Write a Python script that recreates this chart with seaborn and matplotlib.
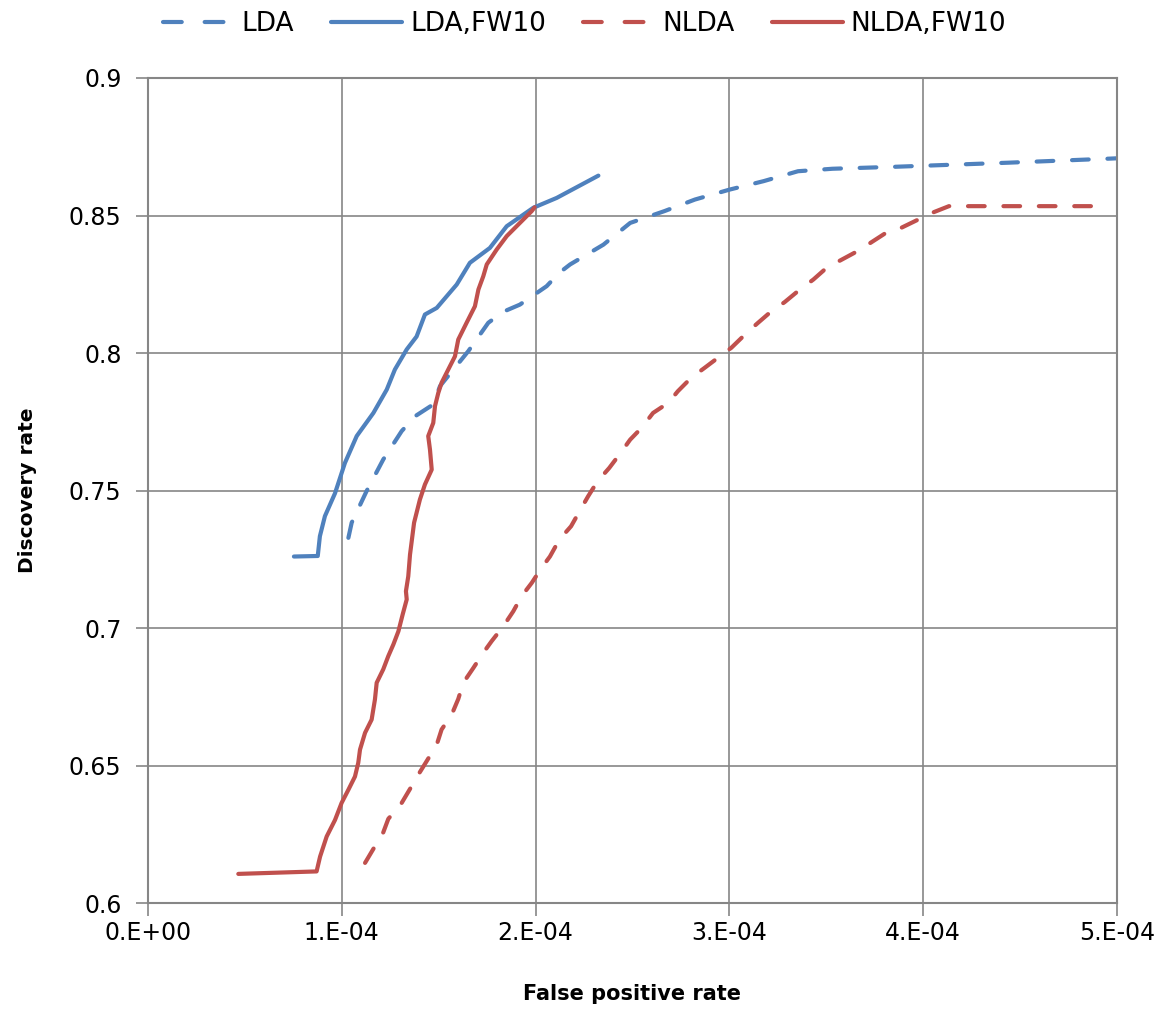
import pandas as pd
import matplotlib
matplotlib.use("Agg")
import matplotlib.pyplot as plt
import seaborn as sns

# false positive rate in units of 1e-4, discovery rate
lda_x = [1.034, 1.051, 1.128, 1.214, 1.309, 1.378, 1.472, 1.507, 1.653, 1.756, 1.833, 1.919,
         2.057, 2.123, 2.178, 2.350, 2.488, 2.665, 2.822, 3.000, 3.177, 3.354, 3.532, 3.847,
         4.044, 4.438, 4.969, 5.0]
lda_y = [0.7328, 0.7383, 0.7498, 0.7613, 0.7716, 0.7770, 0.7813, 0.7880, 0.8007, 0.8110, 0.8150, 0.8176,
         0.8243, 0.8292, 0.8322, 0.8394, 0.8473, 0.8516, 0.8558, 0.8594, 0.8625, 0.8661, 0.8670, 0.8677,
         0.8682, 0.8692, 0.8707, 0.8708]

lda_fw_x = [0.753, 0.876, 0.887, 0.913, 0.965, 1.016, 1.077, 1.163, 1.232, 1.274, 1.335, 1.386,
            1.429, 1.490, 1.593, 1.661, 1.764, 1.851, 1.988, 2.109, 2.324]
lda_fw_y = [0.7260, 0.7262, 0.7334, 0.7407, 0.7490, 0.7600, 0.7698, 0.7782, 0.7867, 0.7940, 0.8013, 0.8060,
            0.8140, 0.8164, 0.8249, 0.8328, 0.8382, 0.8461, 0.8528, 0.8564, 0.8645]

nlda_x = [1.120, 1.163, 1.214, 1.240, 1.309, 1.352, 1.395, 1.438, 1.490, 1.515, 1.567, 1.601,
          1.627, 1.679, 1.730, 1.773, 1.833, 1.885, 1.928, 1.980, 2.031, 2.074, 2.123, 2.183,
          2.232, 2.271, 2.320, 2.380, 2.439, 2.488, 2.547, 2.606, 2.685, 2.734, 2.803, 2.872,
          2.951, 3.010, 3.089, 3.148, 3.217, 3.285, 3.364, 3.433, 3.502, 3.581, 3.660, 3.729,
          3.808, 3.886, 3.994, 4.054, 4.133, 4.949]
nlda_y = [0.6146, 0.6197, 0.6257, 0.6306, 0.6364, 0.6415, 0.6467, 0.6516, 0.6576, 0.6631, 0.6685, 0.6742,
          0.6801, 0.6855, 0.6910, 0.6952, 0.7006, 0.7061, 0.7116, 0.7164, 0.7219, 0.7260, 0.7322, 0.7370,
          0.7431, 0.7479, 0.7534, 0.7582, 0.7637, 0.7685, 0.7728, 0.7782, 0.7819, 0.7861, 0.7910, 0.7946,
          0.7988, 0.8019, 0.8073, 0.8110, 0.8152, 0.8185, 0.8231, 0.8267, 0.8310, 0.8340, 0.8370, 0.8401,
          0.8437, 0.8455, 0.8492, 0.8512, 0.8534, 0.8534]

nlda_fw_x = [0.466, 0.870, 0.888, 0.922, 0.965, 0.999, 1.034, 1.068, 1.085, 1.094, 1.120, 1.154,
             1.171, 1.180, 1.214, 1.240, 1.266, 1.292, 1.314, 1.335, 1.331, 1.343, 1.352, 1.373,
             1.403, 1.429, 1.464, 1.455, 1.446, 1.472, 1.481, 1.498, 1.515, 1.558, 1.584, 1.601,
             1.644, 1.687, 1.705, 1.730, 1.748, 1.799, 1.851, 1.919, 1.980, 1.995]
nlda_fw_y = [0.6106, 0.6115, 0.6169, 0.6242, 0.6302, 0.6364, 0.6412, 0.6460, 0.6510, 0.6558, 0.6619, 0.6667,
             0.6740, 0.6801, 0.6850, 0.6898, 0.6940, 0.6988, 0.7049, 0.7104, 0.7134, 0.7188, 0.7267, 0.7383,
             0.7467, 0.7522, 0.7576, 0.7649, 0.7698, 0.7746, 0.7807, 0.7855, 0.7892, 0.7952, 0.7988, 0.8049,
             0.8110, 0.8170, 0.8231, 0.8279, 0.8322, 0.8376, 0.8425, 0.8473, 0.8516, 0.8530]

x_ticks = [0, 1e-4, 2e-4, 3e-4, 4e-4, 5e-4]
x_tick_labels = ["0.E+00", "1.E-04", "2.E-04", "3.E-04", "4.E-04", "5.E-04"]
y_ticks = [0.6, 0.65, 0.7, 0.75, 0.8, 0.85, 0.9]
y_tick_labels = ["0.6", "0.65", "0.7", "0.75", "0.8", "0.85", "0.9"]

blue = "#4F81BD"
red = "#C0504D"
grid_color = "#868686"

sns.set_style("white")
plt.rcParams["font.family"] = ["DejaVu Sans"]
plt.rcParams["text.color"] = "black"
plt.rcParams["axes.labelcolor"] = "black"

fig = plt.figure(figsize=(11.69, 10.29), dpi=100)
ax = fig.add_axes([0.1266, 0.1224, 0.8289, 0.8018])

series = [
    ("LDA", lda_x, lda_y, blue, True),
    ("LDA,FW10", lda_fw_x, lda_fw_y, blue, False),
    ("NLDA", nlda_x, nlda_y, red, True),
    ("NLDA,FW10", nlda_fw_x, nlda_fw_y, red, False),
]

for name, xs, ys, color, dashed in series:
    df = pd.DataFrame({"fpr": [v * 1e-4 for v in xs], "dr": ys})
    sns.lineplot(data=df, x="fpr", y="dr", ax=ax, sort=False, estimator=None,
                 color=color, linewidth=3.0, label=name)
    ln = ax.get_lines()[-1]
    if dashed:
        ln.set_linestyle((0, (4.0, 4.5)))
        ln.set_dash_capstyle("round")
    ln.set_solid_capstyle("round")
    ln.set_solid_joinstyle("round")

ax.set_xlim(0, 5e-4)
ax.set_ylim(0.6, 0.9)
ax.set_xticks(x_ticks)
ax.set_xticklabels(x_tick_labels)
ax.set_yticks(y_ticks)
ax.set_yticklabels(y_tick_labels)
ax.tick_params(axis="both", bottom=True, left=True, direction="out", labelsize=17, length=9,
               width=1.2, color=grid_color, labelcolor="black")
ax.tick_params(axis="y", pad=10)
ax.tick_params(axis="x", pad=4)
ax.grid(True, color=grid_color, linewidth=1.2)
ax.set_axisbelow(True)
for sp in ax.spines.values():
    sp.set_color(grid_color)
    sp.set_linewidth(1.5)

ax.set_xlabel("False positive rate", fontsize=15, fontweight="bold", labelpad=28)
ax.set_ylabel("Discovery rate", fontsize=14.5, fontweight="bold", labelpad=23)

handles, labels = ax.get_legend_handles_labels()
ax.get_legend().remove()
leg = fig.legend(handles, labels, loc="upper center", bbox_to_anchor=(0.5, 1.012), ncol=4,
                 frameon=False, fontsize=19, handlelength=2.7, columnspacing=1.4, handletextpad=0.3)
for lh, (_, _, _, _, dashed) in zip(leg.get_lines(), series):
    if dashed:
        lh.set_linestyle((0, (4.5, 5.5)))
        lh.set_dash_capstyle("round")

fig.savefig("out.png", dpi=100)
